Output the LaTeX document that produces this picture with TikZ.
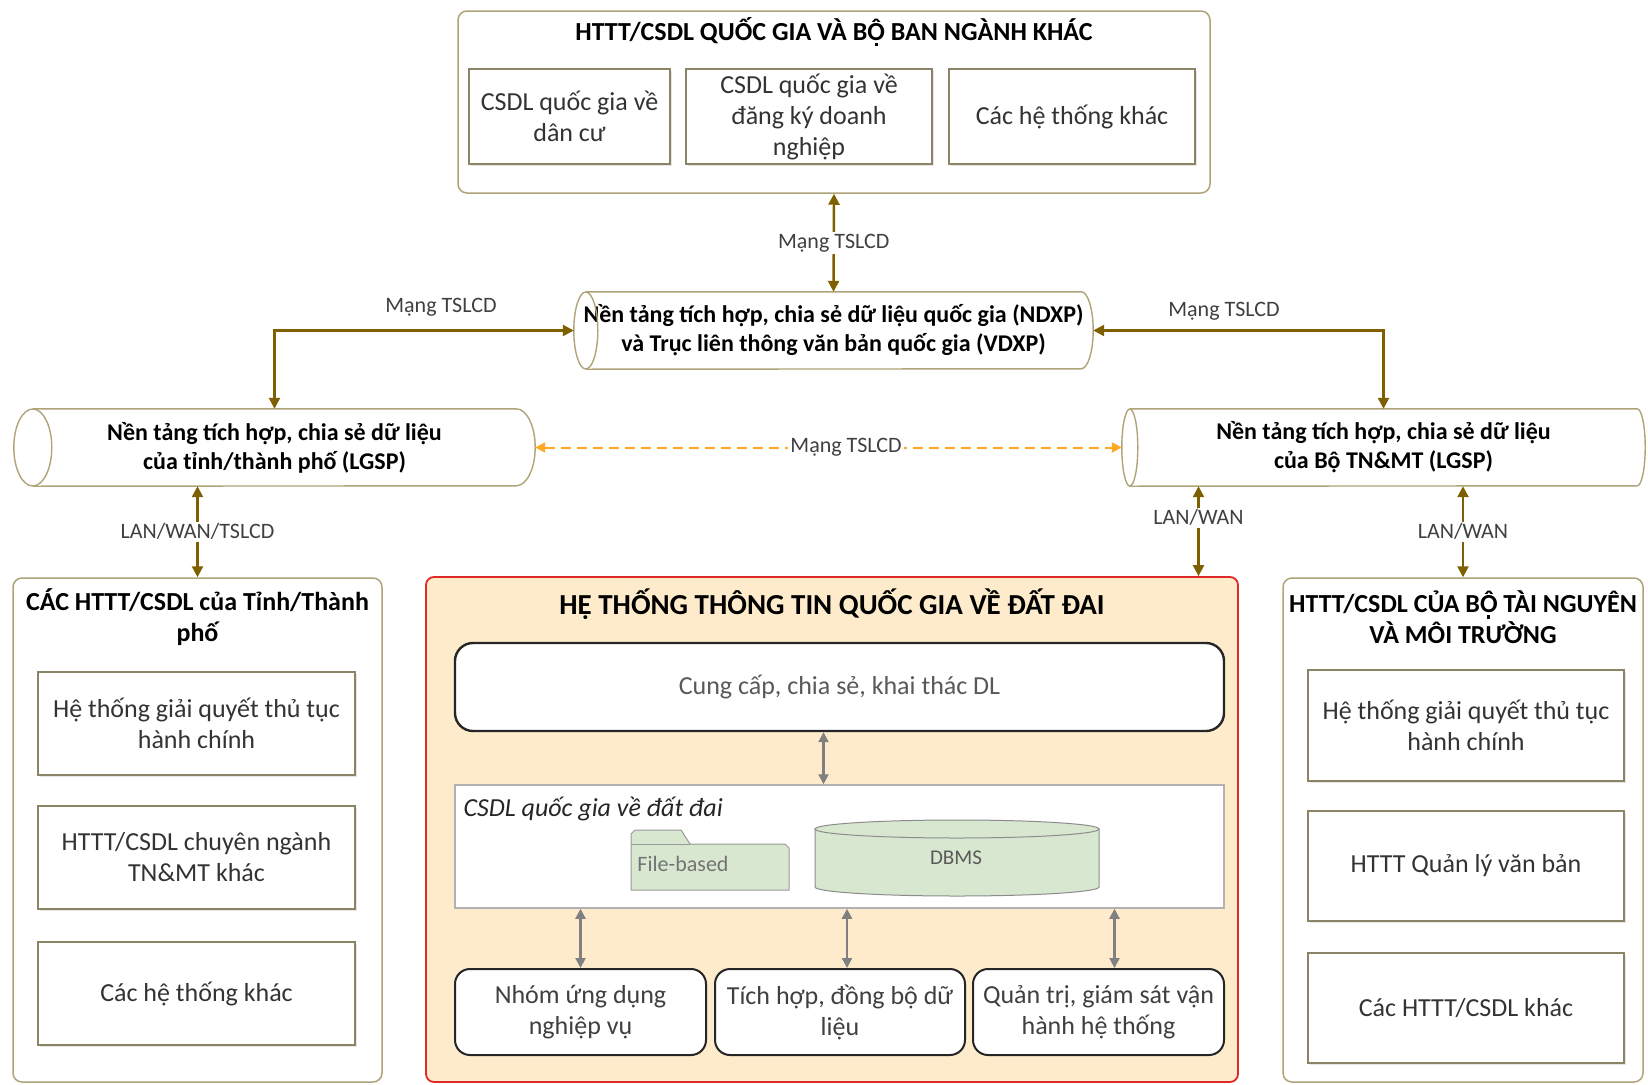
\documentclass[tikz,border=0pt]{standalone}
\usepackage{fontspec}
\setmainfont{Carlito}
\usetikzlibrary{arrows.meta,shadows}

\definecolor{linkcol}{RGB}{127,96,0}
\definecolor{framecol}{RGB}{175,163,120}
\definecolor{itemcol}{RGB}{140,132,102}
\definecolor{landfill}{RGB}{253,235,203}
\definecolor{landframe}{RGB}{225,40,40}
\definecolor{dbfill}{RGB}{216,232,208}
\definecolor{dashcol}{RGB}{255,168,36}

% capital O with circumflex and dot below
\newcommand\Ohatdot{\ooalign{\hfil Ô\hfil\cr\hfil\raisebox{-0.22em}{\rule{0.12em}{0.12em}}\hfil\cr}}

\begin{document}
\begin{tikzpicture}[x=1pt,y=-1pt,
    frame/.style={draw=framecol, line width=1.5pt, rounded corners=9pt},
    item/.style={draw=itemcol, line width=1.6pt, fill=white, align=center,
        font=\fontsize{26}{31}\selectfont, text=black!80,
        drop shadow={shadow xshift=2pt, shadow yshift=-2pt, fill=black!20}},
    head/.style={align=center, font=\bfseries\fontsize{26}{31}\selectfont},
    pipe/.style={align=center, font=\bfseries\fontsize{24}{29}\selectfont},
    pipeline/.style={draw=framecol, line width=1.4pt},
    link/.style={linkcol, line width=2.4pt, {Triangle[width=11pt,length=11pt]}-{Triangle[width=11pt,length=11pt]}},
    inlink/.style={black!50, line width=2.2pt, {Triangle[width=10pt,length=10pt]}-{Triangle[width=10pt,length=10pt]}},
    tag/.style={fill=white, text=black!75, inner sep=2pt, font=\fontsize{22}{26}\selectfont},
    app/.style={draw=black!85, line width=2pt, rounded corners=15pt, fill=white, align=center,
        font=\fontsize{26}{31}\selectfont, text=black!75}]
\useasboundingbox (0,0) rectangle (1648,1084);

% national systems
\node[frame, minimum width=752pt, minimum height=182pt] (natl) at (834,102) {};
\node[head] (natltitle) at (834,32) {HTTT/CSDL QUỐC GIA VÀ B\Ohatdot{} BAN NGÀNH KHÁC};
\node[item, minimum width=201pt, minimum height=95pt] (popdb) at (569.5,116.5) {CSDL quốc gia về\\dân cư};
\node[item, minimum width=246pt, minimum height=95pt] (bizdb) at (809,116.5) {CSDL quốc gia về\\đăng ký doanh\\nghiệp};
\node[item, minimum width=246pt, minimum height=95pt] (othdb) at (1072,116.5) {Các hệ thống khác};

% integration platforms
\node[pipe, minimum width=519pt, minimum height=77pt] (ndxp) at (833.5,330.5) {Nền tảng tích hợp, chia sẻ dữ liệu quốc gia (NDXP)\\và Trục liên thông văn bản quốc gia (VDXP)};
\node[pipe, minimum width=521pt, minimum height=77pt] (lgspL) at (274.5,447.5) {Nền tảng tích hợp, chia sẻ dữ liệu\\của tỉnh/thành phố (LGSP)};
\node[pipe, minimum width=523pt, minimum height=77pt] (lgspR) at (1383.5,447.5) {Nền tảng tích hợp, chia sẻ dữ liệu\\của Bộ TN\&MT (LGSP)};

\draw[pipeline] ([xshift=12pt]ndxp.north west) -- ([xshift=-12pt]ndxp.north east) arc[start angle=90,end angle=-90,x radius=12pt,y radius=38.5pt] -- ([xshift=12pt]ndxp.south west);
\draw[pipeline] ([xshift=12pt]ndxp.west) ellipse[x radius=12pt,y radius=38.5pt];
\draw[pipeline] ([xshift=19pt]lgspL.north west) -- ([xshift=-19pt]lgspL.north east) arc[start angle=90,end angle=-90,x radius=19pt,y radius=38.5pt] -- ([xshift=19pt]lgspL.south west);
\draw[pipeline] ([xshift=19pt]lgspL.west) ellipse[x radius=19pt,y radius=38.5pt];
\draw[pipeline] ([xshift=8pt]lgspR.north west) -- ([xshift=-8pt]lgspR.north east) arc[start angle=90,end angle=-90,x radius=8pt,y radius=38.5pt] -- ([xshift=8pt]lgspR.south west);
\draw[pipeline] ([xshift=8pt]lgspR.west) ellipse[x radius=8pt,y radius=38.5pt];

% province systems
\node[frame, minimum width=369pt, minimum height=504pt] (prov) at (197.5,830) {};
\node[head] (provtitle) at (197.5,617) {CÁC HTTT/CSDL của Tỉnh/Thành\\phố};
\node[item, minimum width=317pt, minimum height=103pt] (provA) at (196.5,723.5) {Hệ thống giải quyết thủ tục\\hành chính};
\node[item, minimum width=317pt, minimum height=103pt] (provB) at (196.5,857.5) {HTTT/CSDL chuyên ngành\\TN\&MT khác};
\node[item, minimum width=317pt, minimum height=103pt] (provC) at (196.5,993.5) {Các hệ thống khác};

% ministry systems
\node[frame, minimum width=360pt, minimum height=504pt] (mony) at (1463,830) {};
\node[head] (monytitle) at (1463,617.5) {HTTT/CSDL CỦA B\Ohatdot{} TÀI NGUYÊN\\VÀ MÔI TRƯỜNG};
\node[item, minimum width=316pt, minimum height=111pt] (monyA) at (1466,725.5) {Hệ thống giải quyết thủ tục\\hành chính};
\node[item, minimum width=316pt, minimum height=110pt] (monyB) at (1466,866) {HTTT Quản lý văn bản};
\node[item, minimum width=316pt, minimum height=110pt] (monyC) at (1466,1008) {Các HTTT/CSDL khác};

% national land information system
\node[draw=landframe, fill=landfill, line width=1.8pt, rounded corners=8pt, minimum width=812pt, minimum height=505pt] (land) at (832,829.5) {};
\node[head, font=\bfseries\fontsize{29}{34}\selectfont] (landtitle) at (832,604) {HỆ THỐNG THÔNG TIN QUỐC GIA VỀ ĐẤT ĐAI};
\node[app, line width=2.4pt, rounded corners=18pt, minimum width=769pt, minimum height=88pt, text=black!65] (share) at (839.5,687) {Cung cấp, chia sẻ, khai thác DL};
\node[draw=black!30, line width=1.5pt, fill=white, minimum width=769pt, minimum height=123pt] (landdb) at (839.5,846.5) {};
\node[anchor=west, font=\itshape\fontsize{26}{31}\selectfont, text=black!85] (landdbname) at (460,809) {CSDL quốc gia về đất đai};
\draw[draw=black!40, fill=dbfill, line width=1pt] (631,890) -- (631,834) -- (635,830) -- (681,830) -- (690,844) -- (785,844) -- (789,848) -- (789,890) -- cycle;
\draw[draw=black!40, line width=1pt] (631,844) -- (690,844);
\node[text=black!55, font=\fontsize{22}{26}\selectfont] (filebased) at (683,864) {File-based};
\draw[draw=black!45, fill=dbfill, line width=1pt] (815,829) -- (815,887) arc[start angle=180,end angle=360,x radius=142pt,y radius=9pt] -- (1099,829) -- cycle;
\draw[draw=black!45, fill=dbfill, line width=1pt] (957,829) ellipse[x radius=142pt,y radius=9pt];
\node[text=black!65, font=\fontsize{21}{25}\selectfont] (dbms) at (956,858) {DBMS};
\node[app, minimum width=251pt, minimum height=86pt] (appA) at (580.5,1012) {Nhóm ứng dụng\\nghiệp vụ};
\node[app, minimum width=250pt, minimum height=86pt] (appB) at (840,1012) {Tích hợp, đồng bộ dữ\\liệu};
\node[app, minimum width=251pt, minimum height=86pt] (appC) at (1098.5,1012) {Quản trị, giám sát vận\\hành hệ thống};

% connections
\draw[link] (natl.south) -- node[tag] {Mạng TSLCD} (ndxp.north);
\draw[link] (ndxp.west) -| (lgspL.north);
\node[tag] (tagL) at (441,307) {Mạng TSLCD};
\draw[link] (ndxp.east) -| (lgspR.north);
\node[tag] (tagR) at (1224,311) {Mạng TSLCD};
\draw[dashcol, line width=2pt, dash pattern=on 10pt off 6pt, {Triangle[width=10pt,length=10pt]}-{Triangle[width=10pt,length=10pt]}] (lgspL.east) -- node[tag, pos=0.53] {Mạng TSLCD} (lgspR.west);
\draw[link] (prov.north |- lgspL.south) -- node[tag] {LAN/WAN/TSLCD} (prov.north);
\draw[link] ([xshift=-185pt]lgspR.south) -- node[tag, pos=0.35] {LAN/WAN} ([xshift=-185pt]lgspR.south |- land.north);
\draw[link] (mony.north |- lgspR.south) -- node[tag] {LAN/WAN} (mony.north);
\draw[inlink] ([xshift=-16pt]share.south) -- ([xshift=-16pt]landdb.north);
\draw[inlink] (appA.north |- landdb.south) -- (appA.north);
\draw[inlink] ([xshift=7pt]appB.north |- landdb.south) -- ([xshift=7pt]appB.north);
\draw[inlink] ([xshift=16pt]appC.north |- landdb.south) -- ([xshift=16pt]appC.north);
\end{tikzpicture}
\end{document}
